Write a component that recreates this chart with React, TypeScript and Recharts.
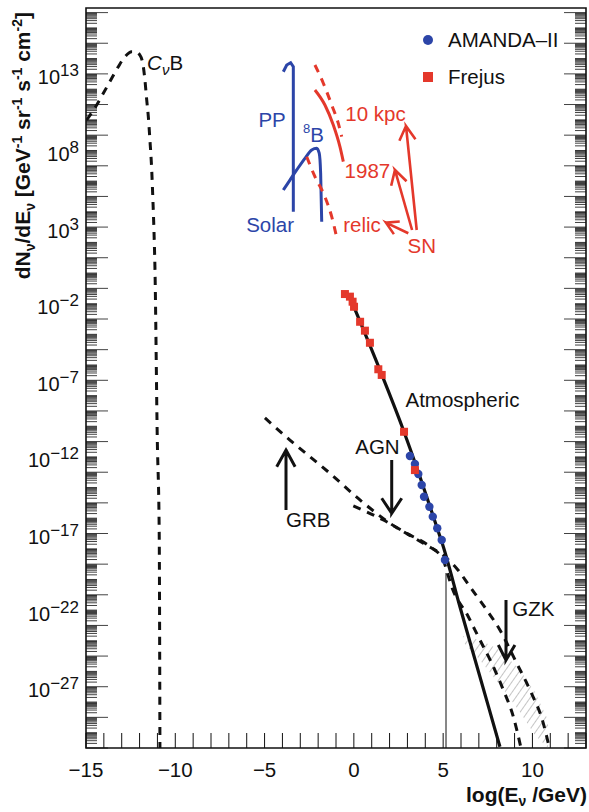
import React from 'react';
import { ComposedChart, Line, Scatter, Area, XAxis, YAxis, ReferenceArea, Legend } from 'recharts';

const FONT = '"Liberation Sans", Arial, Helvetica, sans-serif';
const INK = '#111111';
const BLUE = '#2c45a8';
const RED = '#e4382b';

// plot frame (px) and axis ranges
const PLOT_WIDTH = 500;
const X_MIN = -15;
const X_MAX = 13;
const Y_MIN = -31;
const Y_MAX = 17.3;

// x = log10(E / GeV), y = log10(dN/dE)
const cnbCurve = [
  { x: -14.96, y: 9.99 }, { x: -14.4, y: 10.97 }, { x: -14.03, y: 11.73 }, { x: -13.56, y: 12.71 },
  { x: -13.19, y: 13.47 }, { x: -12.82, y: 14.12 }, { x: -12.44, y: 14.45 }, { x: -12.26, y: 14.45 },
  { x: -11.98, y: 14.23 }, { x: -11.79, y: 13.47 }, { x: -11.7, y: 12.6 }, { x: -11.6, y: 11.3 },
  { x: -11.51, y: 10.21 }, { x: -11.42, y: 8.68 }, { x: -11.32, y: 6.73 }, { x: -11.26, y: 4.98 },
  { x: -11.19, y: 2.61 }, { x: -11.14, y: 0.4 }, { x: -11.01, y: -10.7 }, { x: -10.9, y: -16.97 },
  { x: -10.86, y: -31 },
];

const solarPP = [
  { x: -3.95, y: 13.14 }, { x: -3.76, y: 13.58 }, { x: -3.54, y: 13.73 }, { x: -3.39, y: 13.47 },
  { x: -3.39, y: 4.0 },
];

const solarB8 = [
  { x: -3.95, y: 5.42 }, { x: -3.58, y: 6.07 }, { x: -3.2, y: 6.73 }, { x: -2.74, y: 7.49 },
  { x: -2.36, y: 8.03 }, { x: -2.08, y: 8.14 }, { x: -1.94, y: 7.82 }, { x: -1.86, y: 6.51 },
  { x: -1.8, y: 3.35 },
];

const sn10kpc = [
  { x: -2.18, y: 13.58 }, { x: -1.71, y: 12.39 }, { x: -1.24, y: 10.97 }, { x: -0.87, y: 9.77 },
  { x: -0.68, y: 8.9 },
];

const sn1987 = [
  { x: -2.18, y: 11.95 }, { x: -1.62, y: 10.97 }, { x: -1.15, y: 9.66 }, { x: -0.78, y: 8.25 },
  { x: -0.59, y: 7.27 },
];

const snRelic = [
  { x: -2.64, y: 7.59 }, { x: -2.18, y: 6.29 }, { x: -1.62, y: 4.98 }, { x: -1.24, y: 3.68 },
  { x: -0.93, y: 2.16 },
];

const atmospheric = [
  { x: 0.06, y: -2.37 }, { x: 1.46, y: -6.33 }, { x: 2.77, y: -10.24 }, { x: 3.7, y: -13.29 },
  { x: 4.64, y: -16.56 }, { x: 5.01, y: -17.86 }, { x: 5.94, y: -21.78 }, { x: 7.06, y: -26.35 },
  { x: 8.18, y: -30.92 },
];

const grbFlux = [
  { x: -4.98, y: -9.46 }, { x: -3.58, y: -10.9 }, { x: -1.34, y: -13.07 }, { x: 0.34, y: -14.81 },
  { x: 2.02, y: -16.33 }, { x: 3.89, y: -17.64 }, { x: 5.2, y: -18.62 }, { x: 5.83, y: -19.38 },
  { x: 6.5, y: -20.47 }, { x: 7.44, y: -21.99 }, { x: 8.18, y: -23.3 }, { x: 9.12, y: -25.47 },
  { x: 9.86, y: -27.21 }, { x: 10.61, y: -29.39 }, { x: 10.95, y: -31 },
];

const agnFlux = [
  { x: -0.03, y: -15.2 }, { x: 1.65, y: -16.12 }, { x: 2.96, y: -16.99 }, { x: 4.26, y: -17.86 },
  { x: 5.01, y: -18.73 }, { x: 5.22, y: -19.51 }, { x: 5.48, y: -20.47 }, { x: 6.41, y: -22.43 },
  { x: 6.97, y: -23.74 }, { x: 7.72, y: -25.47 }, { x: 8.37, y: -27.21 }, { x: 8.93, y: -28.96 },
  { x: 9.36, y: -31 },
];

const gzkBand = [
  { x: 6.11, lo: -24.08, hi: -23.69 },
  { x: 7.06, lo: -25.26, hi: -23.95 },
  { x: 8.18, lo: -26.89, hi: -24.6 },
  { x: 9.3, lo: -28.65, hi: -25.91 },
  { x: 10.14, lo: -30.15, hi: -27.34 },
  { x: 10.87, lo: -31, hi: -29.17 },
];

const energyCut = [{ x: 5.16, y: -19.58 }, { x: 5.16, y: -31 }];

const frejusPoints = [
  { x: -0.5, y: -1.37 }, { x: -0.22, y: -1.54 }, { x: -0.07, y: -1.87 }, { x: 0.01, y: -2.2 },
  { x: 0.35, y: -3.18 }, { x: 0.62, y: -3.76 }, { x: 0.9, y: -4.55 }, { x: 1.37, y: -6.28 },
  { x: 1.56, y: -6.65 }, { x: 2.81, y: -10.36 }, { x: 3.42, y: -12.86 },
];

const amandaPoints = [
  { x: 3.14, y: -11.94 }, { x: 3.42, y: -12.46 }, { x: 3.61, y: -13.12 }, { x: 3.8, y: -13.83 },
  { x: 3.93, y: -14.6 }, { x: 4.23, y: -15.25 }, { x: 4.42, y: -15.9 }, { x: 4.67, y: -16.66 },
  { x: 4.92, y: -17.42 }, { x: 5.1, y: -18.73 },
];

// arrows: barb, tip, barb, tip, tail
const blackArrows = [
  [{ x: -4.32, y: -12.64 }, { x: -3.8, y: -11.55 }, { x: -3.29, y: -12.64 }, { x: -3.8, y: -11.55 }, { x: -3.8, y: -15.47 }],
  [{ x: 1.56, y: -14.7 }, { x: 2.12, y: -15.68 }, { x: 2.68, y: -14.7 }, { x: 2.12, y: -15.68 }, { x: 2.12, y: -12.2 }],
  [{ x: 8.09, y: -24.28 }, { x: 8.52, y: -25.26 }, { x: 9.02, y: -24.28 }, { x: 8.52, y: -25.26 }, { x: 8.52, y: -21.34 }],
];

const snArrows = [
  [{ x: 2.55, y: 8.64 }, { x: 2.92, y: 9.6 }, { x: 3.45, y: 8.74 }, { x: 2.92, y: 9.6 }, { x: 3.52, y: 2.81 }],
  [{ x: 2.09, y: 5.7 }, { x: 2.3, y: 6.73 }, { x: 2.95, y: 5.99 }, { x: 2.3, y: 6.73 }, { x: 3.26, y: 2.81 }],
  [{ x: 2.57, y: 3.37 }, { x: 1.8, y: 3.29 }, { x: 2.24, y: 2.54 }, { x: 1.8, y: 3.29 }, { x: 3.05, y: 2.6 }],
];

const textLabels = [
  { x: -11.58, y: 13.25, text: 'CνB', color: INK, kind: 'cnb' },
  { x: -4.58, y: 9.53, text: 'PP', color: BLUE },
  { x: -4.69, y: 2.68, text: 'Solar', color: BLUE },
  { x: -2.85, y: 8.55, text: 'B', color: BLUE, kind: 'b8' },
  { x: 1.21, y: 9.94, text: '10 kpc', color: RED },
  { x: 0.76, y: 6.18, text: '1987', color: RED },
  { x: 0.46, y: 2.7, text: 'relic', color: RED },
  { x: 3.8, y: 1.29, text: 'SN', color: RED },
  { x: 6.08, y: -8.76, text: 'Atmospheric', color: INK },
  { x: 1.32, y: -11.81, text: 'AGN', color: INK },
  { x: -2.55, y: -16.6, text: 'GRB', color: INK },
  { x: 10.05, y: -22.38, text: 'GZK', color: INK },
];

const legendItems = [
  { name: 'AMANDA–II', color: BLUE, symbol: 'circle' },
  { name: 'Frejus', color: RED, symbol: 'square' },
];

const xTicks: number[] = [];
for (let v = X_MIN; v <= X_MAX; v++) xTicks.push(v);
const xLabelTicks = [-15, -10, -5, 0, 5, 10];

const yTicks: number[] = [];
for (let n = -31; n <= 17; n++) {
  for (let k = 1; k <= 9; k++) {
    const v = n + Math.log10(k);
    if (v >= Y_MIN && v <= Y_MAX) yTicks.push(v);
  }
}
const yLabelExponents = [13, 8, 3, -2, -7, -12, -17, -22, -27];

const minus = (v: number) => (v < 0 ? `−${-v}` : `${v}`);

const XTick = (props: any) => {
  const { x, y, payload } = props;
  const v = payload.value;
  return (
    <g>
      <line x1={x} x2={x} y1={y} y2={y - 15} stroke={INK} strokeWidth={1} />
      {xLabelTicks.includes(v) && (
        <text x={x} y={y + 29} textAnchor="middle" fontFamily={FONT} fontSize={20.5} fill={INK}>
          {minus(v)}
        </text>
      )}
    </g>
  );
};

const YTick = (props: any) => {
  const { x, y, payload } = props;
  const v = payload.value as number;
  const n = Math.round(v);
  const decade = Math.abs(v - n) < 1e-6;
  const len = decade && Math.abs(n) % 2 === 1 ? 22 : 11;
  const right = x + PLOT_WIDTH;
  return (
    <g>
      <line x1={x} x2={x + len} y1={y} y2={y} stroke={INK} strokeWidth={0.8} />
      <line x1={right - len} x2={right} y1={y} y2={y} stroke={INK} strokeWidth={0.8} />
      {decade && yLabelExponents.includes(n) && (
        <text x={x - 7} y={y + 10.5} textAnchor="end" fontFamily={FONT} fontSize={20} fill={INK}>
          10<tspan dy={-8} fontSize={17}>{minus(n)}</tspan>
        </text>
      )}
    </g>
  );
};

const renderSquare = (props: any) => (
  <rect x={props.cx - 4} y={props.cy - 4} width={8} height={8} fill={RED} />
);

const renderCircle = (props: any) => (
  <circle cx={props.cx} cy={props.cy} r={4.2} fill={BLUE} />
);

const renderTextLabel = (props: any) => {
  const { cx, cy, payload } = props;
  const common = { fontFamily: FONT, fontSize: 20.5, fill: payload.color };
  if (payload.kind === 'cnb') {
    return (
      <text x={cx} y={cy} {...common}>
        <tspan fontStyle="italic">C</tspan>
        <tspan fontStyle="italic" fontSize={15} dy={5}>ν</tspan>
        <tspan dy={-5}>B</tspan>
      </text>
    );
  }
  if (payload.kind === 'b8') {
    return (
      <text x={cx} y={cy} {...common}>
        <tspan fontSize={13} dy={-9}>8</tspan>
        <tspan dy={9}>{payload.text}</tspan>
      </text>
    );
  }
  return (
    <text x={cx} y={cy} textAnchor="middle" {...common}>
      {payload.text}
    </text>
  );
};

const renderLegend = () => (
  <div style={{ fontFamily: FONT, fontSize: 20.5, color: INK }}>
    {legendItems.map((item) => (
      <div key={item.name} style={{ display: 'flex', alignItems: 'center', height: 37 }}>
        <svg width={14} height={14} style={{ marginRight: 13 }}>
          {item.symbol === 'circle' ? (
            <circle cx={7} cy={7} r={5} fill={item.color} />
          ) : (
            <rect x={2} y={2} width={10} height={10} fill={item.color} />
          )}
        </svg>
        <span>{item.name}</span>
      </div>
    ))}
  </div>
);

const YTitle = (props: any) => {
  const { viewBox } = props;
  const x = viewBox.x + 4;
  const y = viewBox.y + 4;
  return (
    <text
      x={x}
      y={y}
      transform={`rotate(-90, ${x}, ${y})`}
      textAnchor="end"
      fontFamily={FONT}
      fontWeight="bold"
      fontSize={21}
      fill={INK}
    >
      dN<tspan fontSize={14} dy={5}>ν</tspan>
      <tspan dy={-5}>/dE</tspan>
      <tspan fontSize={14} dy={5}>ν</tspan>
      <tspan dy={-5}> [GeV</tspan>
      <tspan fontSize={14} dy={-8}>-1</tspan>
      <tspan dy={8}> sr</tspan>
      <tspan fontSize={14} dy={-8}>-1</tspan>
      <tspan dy={8}> s</tspan>
      <tspan fontSize={14} dy={-8}>-1</tspan>
      <tspan dy={8}> cm</tspan>
      <tspan fontSize={14} dy={-8}>-2</tspan>
      <tspan dy={8}>]</tspan>
    </text>
  );
};

const XTitle = (props: any) => {
  const { viewBox } = props;
  return (
    <text
      x={viewBox.x + viewBox.width + 1}
      y={viewBox.y + 54}
      textAnchor="end"
      fontFamily={FONT}
      fontWeight="bold"
      fontSize={21}
      fill={INK}
    >
      log(E<tspan fontSize={14} dy={4}>ν</tspan>
      <tspan dy={-4}> /GeV)</tspan>
    </text>
  );
};

const lineProps = {
  dataKey: 'y',
  dot: false,
  activeDot: false,
  isAnimationActive: false,
  legendType: 'none' as const,
};

export default function App() {
  return (
    <div style={{ position: 'absolute', left: 0, top: 0, width: 589, height: 812, background: '#fff' }}>
      <ComposedChart
        width={589}
        height={812}
        margin={{ top: 8, right: 3, bottom: 34, left: 26 }}
        style={{ fontFamily: FONT }}
      >
        <defs>
          <pattern id="gzkHatch" patternUnits="userSpaceOnUse" width={6} height={6} patternTransform="rotate(35)">
            <line x1={0} y1={0} x2={0} y2={6} stroke="#8c8c8c" strokeWidth={1} />
          </pattern>
        </defs>
        <XAxis
          type="number"
          dataKey="x"
          domain={[X_MIN, X_MAX]}
          ticks={xTicks}
          interval={0}
          allowDataOverflow
          axisLine={false}
          tickLine={false}
          tickSize={0}
          tickMargin={0}
          height={30}
          tick={<XTick />}
          label={{ content: <XTitle /> }}
        />
        <YAxis
          type="number"
          dataKey="y"
          domain={[Y_MIN, Y_MAX]}
          ticks={yTicks}
          interval={0}
          allowDataOverflow
          axisLine={false}
          tickLine={false}
          tickSize={0}
          tickMargin={0}
          width={60}
          tick={<YTick />}
          label={{ content: <YTitle /> }}
        />
        <ReferenceArea x1={X_MIN} x2={X_MAX} y1={Y_MIN} y2={Y_MAX} fill="none" stroke={INK} strokeWidth={1.6} />

        <Area
          data={gzkBand}
          dataKey={(d: any) => [d.lo, d.hi]}
          type="linear"
          stroke="none"
          fill="url(#gzkHatch)"
          fillOpacity={1}
          dot={false}
          activeDot={false}
          isAnimationActive={false}
          legendType="none"
        />

        <Line {...lineProps} data={cnbCurve} type="monotone" stroke={INK} strokeWidth={3} strokeDasharray="8 7" />
        <Line {...lineProps} data={grbFlux} type="monotone" stroke={INK} strokeWidth={3} strokeDasharray="8 7" />
        <Line {...lineProps} data={agnFlux} type="monotone" stroke={INK} strokeWidth={3} strokeDasharray="8 7" />
        <Line {...lineProps} data={energyCut} type="linear" stroke={INK} strokeWidth={1} />

        <Line {...lineProps} data={solarPP} type="linear" stroke={BLUE} strokeWidth={3} />
        <Line {...lineProps} data={solarB8} type="monotone" stroke={BLUE} strokeWidth={3} />
        <Line {...lineProps} data={sn10kpc} type="monotone" stroke={RED} strokeWidth={3} strokeDasharray="8 7" />
        <Line {...lineProps} data={sn1987} type="monotone" stroke={RED} strokeWidth={3} />
        <Line {...lineProps} data={snRelic} type="monotone" stroke={RED} strokeWidth={3} strokeDasharray="8 7" />

        {snArrows.map((a, i) => (
          <Line key={`sn-${i}`} {...lineProps} data={a} type="linear" stroke={RED} strokeWidth={2.6} />
        ))}
        {blackArrows.map((a, i) => (
          <Line key={`bk-${i}`} {...lineProps} data={a} type="linear" stroke={INK} strokeWidth={3} />
        ))}

        <Scatter data={amandaPoints} shape={renderCircle} isAnimationActive={false} legendType="none" />
        <Scatter data={frejusPoints} shape={renderSquare} isAnimationActive={false} legendType="none" />
        <Line {...lineProps} data={atmospheric} type="monotone" stroke={INK} strokeWidth={3.2} />

        <Scatter data={textLabels} shape={renderTextLabel} isAnimationActive={false} legendType="none" />

        <Legend
          layout="vertical"
          align="center"
          verticalAlign="middle"
          content={renderLegend}
          wrapperStyle={{ left: 421, top: 21, width: 165 }}
        />
      </ComposedChart>
    </div>
  );
}
